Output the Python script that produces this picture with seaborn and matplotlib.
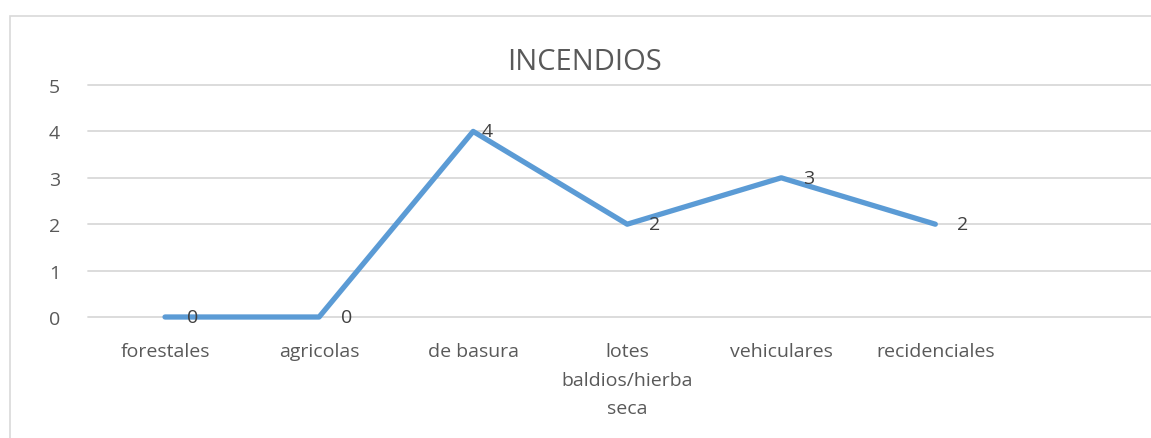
import matplotlib.pyplot as plt
import matplotlib.patches as mpatches
import seaborn as sb

categorias = ["forestales", "agricolas", "de basura", "lotes\nbaldios/hierba\nseca",
              "vehiculares", "recidenciales"]
incendios = [0, 0, 4, 2, 3, 2]
yticks = [0, 1, 2, 3, 4, 5]

sb.set_style("white")
plt.rcParams['font.family'] = ['Open Sans', 'DejaVu Sans']

W, H = 1151, 439
fig = plt.figure(figsize=(W / 100, H / 100), dpi=100)
ax = fig.add_axes([88 / W, 1 - 318 / H, (W - 88) / W, (318 - 86) / H])

# marco del grafico
fig.patches.append(mpatches.Rectangle((10 / W, -0.1), 1.2, 1 - 17 / H + 0.1,
                                      transform=fig.transFigure, fill=False,
                                      edgecolor="#d9d9d9", linewidth=1.2))

for v in yticks:
    ax.axhline(v, color="#d9d9d9", linewidth=1.3, zorder=0)

sb.lineplot(x=categorias, y=incendios, ax=ax, color="#5b9bd5", linewidth=3.8,
            sort=False, solid_capstyle="round", solid_joinstyle="round")
for l in ax.lines:
    l.set_clip_on(False)

for i, v in enumerate(incendios):
    ax.annotate(str(v), (i, v), xytext=(22 if v != 4 else 8, 0), textcoords="offset pixels",
                ha="left", va="center", fontsize=14, color="#404040")

ax.set_xlim(-0.5, 6.4)
ax.set_ylim(0, 5)
ax.set_yticks(yticks)
ax.tick_params(axis="y", length=0, pad=20, labelsize=14, labelcolor="#595959")
ax.tick_params(axis="x", length=0, pad=18, labelsize=14, labelcolor="#595959")
for t in ax.get_xticklabels():
    t.set_linespacing(1.75)
for s in ax.spines.values():
    s.set_visible(False)
ax.set_xlabel("")
ax.set_ylabel("")

fig.text(585 / W, 1 - 63 / H, "INCENDIOS", ha="center", va="center",
         fontsize=21, color="#595959")

fig.savefig("out.png", dpi=100)
